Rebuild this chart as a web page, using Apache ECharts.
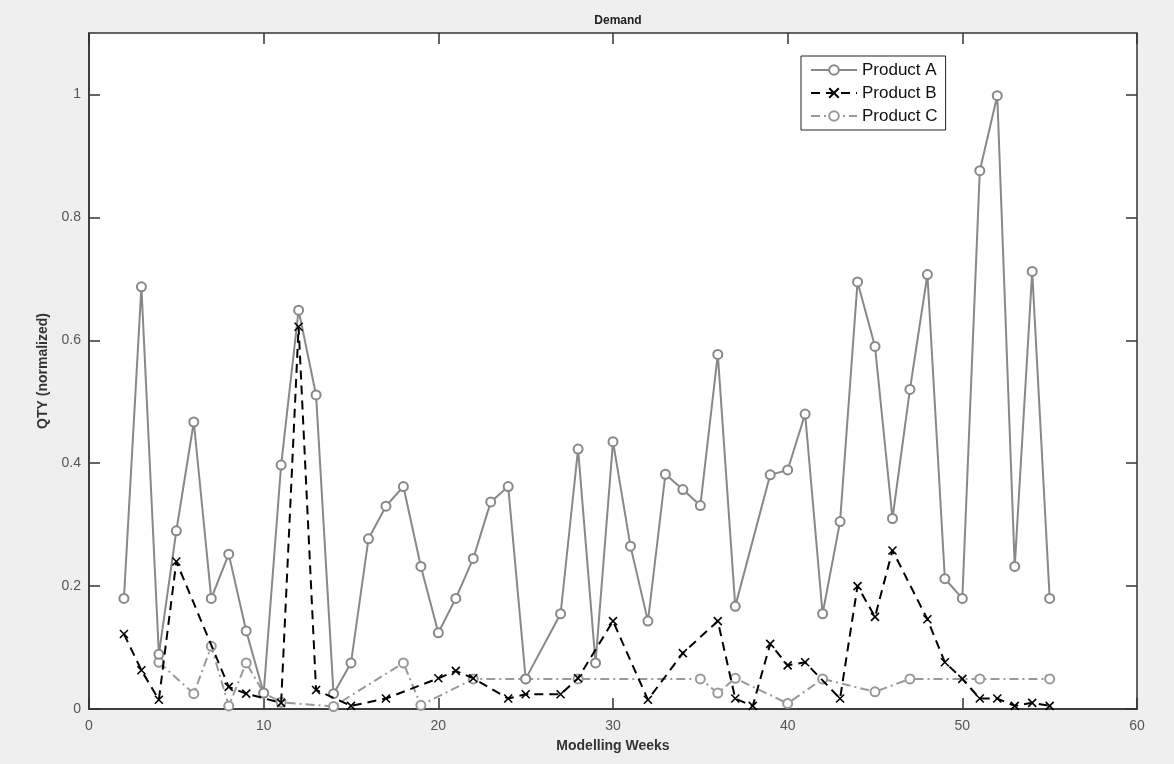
<!DOCTYPE html>
<html>
<head>
<meta charset="utf-8">
<title>Demand</title>
<script src="https://cdn.jsdelivr.net/npm/echarts@6/dist/echarts.min.js"></script>
<style>
  html, body { margin: 0; padding: 0; background: #efefef; }
  #chart { width: 1174px; height: 764px; }
</style>
</head>
<body>
<div id="chart"></div>
<script>
// data
var weeksA = [2, 3, 4, 5, 6, 7, 8, 9, 10, 11, 12, 13, 14, 15, 16, 17, 18, 19, 20, 21, 22, 23, 24, 25,
  27, 28, 29, 30, 31, 32, 33, 34, 35, 36, 37, 39, 40, 41, 42, 43, 44, 45, 46, 47, 48, 49, 50, 51,
  52, 53, 54, 55];
var qtyA = [0.18, 0.687, 0.089, 0.29, 0.467, 0.18, 0.252, 0.127, 0.026, 0.397, 0.649, 0.511, 0.025,
  0.075, 0.277, 0.33, 0.362, 0.232, 0.124, 0.18, 0.245, 0.337, 0.362, 0.049,
  0.155, 0.423, 0.075, 0.435, 0.265, 0.143, 0.382, 0.357, 0.331, 0.577, 0.167, 0.381, 0.389, 0.48,
  0.155, 0.305, 0.695, 0.59, 0.31, 0.52, 0.707, 0.212, 0.18, 0.876,
  0.998, 0.232, 0.712, 0.18];

var weeksB = [2, 3, 4, 5, 8, 9, 11, 12, 13, 15, 17, 20, 21, 22, 24, 25, 27, 28, 30, 32, 34, 36, 37,
  38, 39, 40, 41, 43, 44, 45, 46, 48, 49, 50, 51, 52, 53, 54, 55];
var qtyB = [0.122, 0.063, 0.015, 0.24, 0.036, 0.025, 0.01, 0.622, 0.031, 0.005, 0.017, 0.05, 0.062,
  0.05, 0.017, 0.024, 0.024, 0.05, 0.143, 0.015, 0.091, 0.143, 0.017,
  0.005, 0.106, 0.071, 0.076, 0.017, 0.2, 0.15, 0.258, 0.146, 0.076, 0.049, 0.017, 0.017, 0.005,
  0.01, 0.005];

var weeksC = [4, 6, 7, 8, 9, 10, 11, 14, 18, 19, 22, 25, 28, 35, 36, 37, 40, 42, 45, 47, 51, 55];
var qtyC = [0.076, 0.025, 0.102, 0.005, 0.075, 0.026, 0.011, 0.004, 0.075, 0.006, 0.049, 0.049,
  0.049, 0.049, 0.026, 0.05, 0.009, 0.049, 0.028, 0.049, 0.049, 0.049];

var xTicks = [0, 10, 20, 30, 40, 50, 60];
var yTicks = [0, 0.2, 0.4, 0.6, 0.8, 1];

function pairs(xs, ys) {
  return xs.map(function (x, i) { return [x, ys[i]]; });
}

var crossSymbol = 'path://M0,0L10,10M10,0L0,10';
var font = 'Liberation Sans, Arial, Helvetica, sans-serif';
var tickStyle = { color: '#333', width: 1.5 };

var chart = echarts.init(document.getElementById('chart'));
chart.setOption({
  backgroundColor: '#efefef',
  animation: false,
  title: {
    text: 'Demand',
    left: 613,
    textAlign: 'center',
    top: 10,
    textStyle: { fontFamily: font, fontSize: 12, fontWeight: 'bold', color: '#222' }
  },
  legend: {
    left: 801,
    top: 56,
    orient: 'vertical',
    backgroundColor: '#fff',
    borderColor: '#222',
    borderWidth: 1,
    padding: [5, 8, 5, 9],
    itemGap: 5,
    itemWidth: 46,
    itemHeight: 12,
    textStyle: { fontFamily: font, fontSize: 17, color: '#111', lineHeight: 18 },
    data: ['Product A', 'Product B', 'Product C']
  },
  grid: {
    left: 89,
    right: 37,
    top: 33,
    bottom: 55,
    show: true,
    backgroundColor: '#fff',
    borderColor: '#333',
    borderWidth: 1.5
  },
  xAxis: [{
    type: 'value',
    min: 0,
    max: 60,
    interval: 10,
    name: 'Modelling Weeks',
    nameLocation: 'middle',
    nameGap: 30,
    nameTextStyle: { fontFamily: font, fontSize: 14, fontWeight: 'bold', color: '#333' },
    axisLine: { onZero: false, lineStyle: tickStyle },
    axisTick: { inside: true, length: 11, lineStyle: tickStyle },
    axisLabel: {
      fontFamily: font, fontSize: 14, color: '#555', margin: 10,
      customValues: xTicks,
      formatter: function (v) { return String(v); }
    },
    splitLine: { show: false }
  }, {
    type: 'value',
    position: 'top',
    min: 0,
    max: 60,
    interval: 10,
    axisLine: { show: false, onZero: false },
    axisTick: { show: true, inside: true, length: 11, lineStyle: tickStyle },
    axisLabel: { show: false },
    splitLine: { show: false }
  }],
  yAxis: [{
    type: 'value',
    min: 0,
    max: 1.1,
    interval: 0.2,
    name: 'QTY (normalized)',
    nameLocation: 'middle',
    nameGap: 36,
    nameTextStyle: { fontFamily: font, fontSize: 14, fontWeight: 'bold', color: '#333' },
    axisLine: { show: true, onZero: false, lineStyle: tickStyle },
    axisTick: { inside: true, length: 11, lineStyle: tickStyle, customValues: yTicks },
    axisLabel: {
      fontFamily: font, fontSize: 14, color: '#555', margin: 8,
      customValues: yTicks,
      formatter: function (v) { return String(Math.round(v * 10) / 10); }
    },
    splitLine: { show: false }
  }, {
    type: 'value',
    position: 'right',
    min: 0,
    max: 1.1,
    interval: 0.2,
    axisLine: { show: false, onZero: false },
    axisTick: { show: true, inside: true, length: 11, lineStyle: tickStyle, customValues: yTicks },
    axisLabel: { show: false },
    splitLine: { show: false }
  }],
  series: [{
    name: 'Product A',
    type: 'line',
    data: pairs(weeksA, qtyA),
    symbol: 'emptyCircle',
    symbolSize: 9,
    lineStyle: { color: '#888', width: 2 },
    itemStyle: { color: '#888', borderColor: '#888', borderWidth: 1.8 },
    z: 3
  }, {
    name: 'Product B',
    type: 'line',
    data: pairs(weeksB, qtyB),
    symbol: crossSymbol,
    symbolSize: 8,
    lineStyle: { color: '#000', width: 2, type: [9, 6] },
    itemStyle: { color: '#000', borderColor: '#000', borderWidth: 1.6 },
    z: 4
  }, {
    name: 'Product C',
    type: 'line',
    data: pairs(weeksC, qtyC),
    symbol: 'emptyCircle',
    symbolSize: 9,
    lineStyle: { color: '#999', width: 2, type: [9, 4, 2, 4] },
    itemStyle: { color: '#999', borderColor: '#999', borderWidth: 1.8 },
    z: 2
  }]
});
</script>
</body>
</html>
